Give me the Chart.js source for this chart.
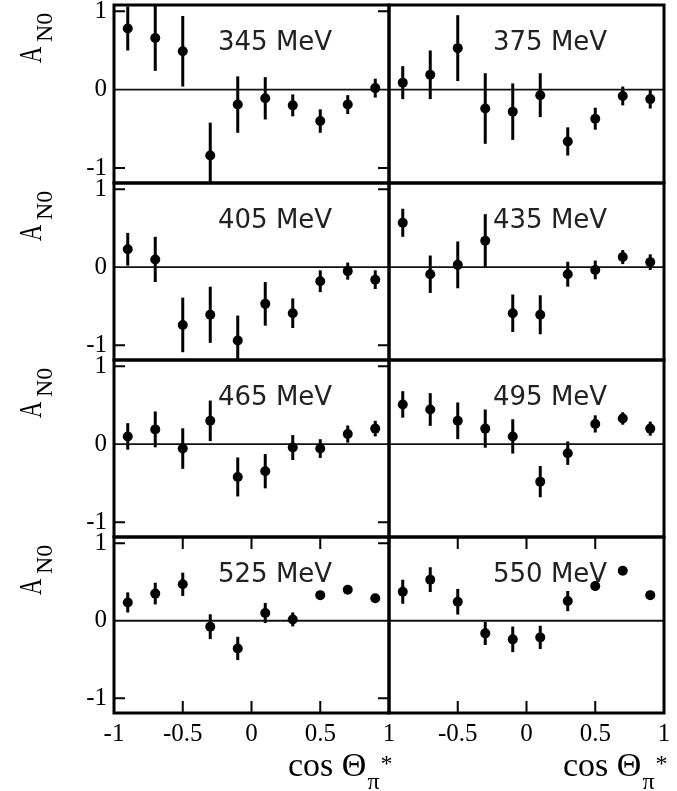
<!DOCTYPE html>
<html>
<head>
<meta charset="utf-8">
<script src="https://cdn.jsdelivr.net/npm/chart.js@4.4.0/dist/chart.umd.min.js"></script>
<style>
  html, body { margin: 0; padding: 0; background: #fff; }
  #page { position: relative; width: 677px; height: 791px; overflow: hidden; }
  .panel { position: absolute; }
  .panel canvas { display: block; }
</style>
</head>
<body>
<div id="page"></div>
<script>
// data: analysing power A_N0 vs cos(theta_pi*)
const cosTheta = [-0.9, -0.7, -0.5, -0.3, -0.1, 0.1, 0.3, 0.5, 0.7, 0.9];
const energies = ['345 MeV', '375 MeV', '405 MeV', '435 MeV', '465 MeV', '495 MeV', '525 MeV', '550 MeV'];
const xTicks = [-1, -0.5, 0, 0.5, 1];
const yTicks = [-1, 0, 1];

const a345 = [0.78, 0.66, 0.49, -0.84, -0.19, -0.11, -0.2, -0.4, -0.19, 0.02];
const e345 = [0.28, 0.42, 0.45, 0.42, 0.36, 0.27, 0.14, 0.15, 0.12, 0.12];
const a375 = [0.09, 0.19, 0.53, -0.24, -0.28, -0.07, -0.66, -0.37, -0.08, -0.12];
const e375 = [0.21, 0.31, 0.42, 0.45, 0.36, 0.28, 0.18, 0.14, 0.12, 0.12];
const a405 = [0.23, 0.10, -0.74, -0.61, -0.94, -0.47, -0.59, -0.18, -0.05, -0.16];
const e405 = [0.21, 0.29, 0.35, 0.36, 0.32, 0.28, 0.19, 0.14, 0.11, 0.12];
const a435 = [0.57, -0.09, 0.03, 0.34, -0.59, -0.61, -0.09, -0.035, 0.13, 0.065];
const e435 = [0.18, 0.24, 0.30, 0.34, 0.24, 0.25, 0.16, 0.12, 0.09, 0.10];
const a465 = [0.10, 0.19, -0.056, 0.30, -0.42, -0.346, -0.043, -0.056, 0.13, 0.20];
const e465 = [0.17, 0.23, 0.26, 0.26, 0.25, 0.22, 0.16, 0.12, 0.11, 0.10];
const a495 = [0.51, 0.445, 0.30, 0.20, 0.10, -0.48, -0.115, 0.26, 0.33, 0.20];
const e495 = [0.17, 0.21, 0.235, 0.245, 0.22, 0.20, 0.15, 0.11, 0.08, 0.09];
const a525 = [0.236, 0.35, 0.47, -0.077, -0.357, 0.10, 0.017, 0.33, 0.40, 0.29];
const e525 = [0.13, 0.14, 0.15, 0.16, 0.15, 0.13, 0.09, 0.05, 0.04, 0.04];
const a550 = [0.374, 0.53, 0.245, -0.163, -0.24, -0.215, 0.254, 0.447, 0.645, 0.33];
const e550 = [0.155, 0.16, 0.165, 0.15, 0.165, 0.15, 0.13, 0.06, 0.05, 0.05];

const values = [a345, a375, a405, a435, a465, a495, a525, a550];
const errors = [e345, e375, e405, e435, e465, e495, e525, e550];

// panel frames in page pixels
const colLeft = [114, 389], colRight = [389, 664];
const rowTop = [5, 183, 360, 537], rowBottom = [183, 360, 537, 713];
const serif = '"Liberation Serif", "Times New Roman", serif';

// vertical error bars, drawn under the dots
const errorBars = {
  id: 'errorBars',
  beforeDatasetsDraw(chart) {
    const { ctx, chartArea, scales: { x, y } } = chart;
    const ds = chart.data.datasets[0];
    ctx.save();
    ctx.beginPath();
    ctx.rect(chartArea.left, chartArea.top, chartArea.width, chartArea.height);
    ctx.clip();
    ctx.strokeStyle = '#000';
    ctx.lineWidth = 3;
    ds.data.forEach((p, j) => {
      const px = x.getPixelForValue(p.x);
      ctx.beginPath();
      ctx.moveTo(px, y.getPixelForValue(p.y - ds.errors[j]));
      ctx.lineTo(px, y.getPixelForValue(p.y + ds.errors[j]));
      ctx.stroke();
    });
    ctx.restore();
  }
};

// frame, zero line, inward ticks and the panel texts
const decorations = {
  id: 'decorations',
  beforeDatasetsDraw(chart) {
    const { ctx, chartArea: a, scales: { y } } = chart;
    ctx.save();
    ctx.strokeStyle = '#111';
    ctx.lineWidth = 1.8;
    const y0 = y.getPixelForValue(0);
    ctx.beginPath();
    ctx.moveTo(a.left, y0);
    ctx.lineTo(a.right, y0);
    ctx.stroke();
    ctx.restore();
  },
  afterDraw(chart) {
    const { ctx, chartArea: a, scales: { x, y } } = chart;
    const info = chart.options.panelInfo;
    ctx.save();
    ctx.strokeStyle = '#000';
    ctx.lineWidth = 2;
    if (info.col === 0) {
      [-1, 1].forEach(v => {
        const py = y.getPixelForValue(v);
        ctx.beginPath();
        ctx.moveTo(a.left, py); ctx.lineTo(a.left + 11, py);
        ctx.moveTo(a.right, py); ctx.lineTo(a.right - 11, py);
        ctx.stroke();
      });
    }
    if (info.row === 3) {
      [-0.5, 0, 0.5].forEach(v => {
        const px = x.getPixelForValue(v);
        ctx.beginPath();
        ctx.moveTo(px, a.bottom); ctx.lineTo(px, a.bottom - 12);
        ctx.moveTo(px, a.top); ctx.lineTo(px, a.top + 12);
        ctx.stroke();
      });
    }
    ctx.lineWidth = 3;
    ctx.strokeRect(a.left, a.top, a.width, a.height);

    // energy label
    ctx.fillStyle = '#222';
    ctx.font = '26px "DejaVu Sans", sans-serif';
    ctx.textBaseline = 'alphabetic';
    ctx.textAlign = 'left';
    ctx.fillText(info.label, a.left + 104, a.top + 45);

    ctx.fillStyle = '#000';
    if (info.col === 0) {
      // rotated A_N0
      ctx.save();
      ctx.translate(41, a.top + 58);
      ctx.rotate(-Math.PI / 2);
      ctx.save();
      ctx.scale(0.7, 1);
      ctx.font = '32px ' + serif;
      ctx.fillText('A', 0, 0);
      ctx.restore();
      ctx.font = '24px ' + serif;
      ctx.fillText('N0', 21, 11);
      ctx.restore();
    }
    if (info.row === 3) {
      const x0 = a.left + 174, base = a.bottom + 63;
      ctx.font = '34px ' + serif;
      ctx.fillText('cos \u0398', x0, base);
      const w = ctx.measureText('cos \u0398').width;
      ctx.font = '24px ' + serif;
      ctx.fillText('\u03c0', x0 + w + 1, base + 13);
      const wp = ctx.measureText('\u03c0').width;
      ctx.fillText('*', x0 + w + wp + 2, base - 5);
    }
    ctx.restore();
  }
};

const page = document.getElementById('page');

energies.forEach((label, i) => {
  const row = Math.floor(i / 2), col = i % 2;
  const left = col === 0 ? 0 : 380;
  const right = col === 0 ? 400 : 677;
  const top = row === 0 ? 0 : rowTop[row] - 10;
  const bottom = row === 3 ? 791 : rowBottom[row] + 10;

  const div = document.createElement('div');
  div.className = 'panel';
  div.style.left = left + 'px';
  div.style.top = top + 'px';
  const canvas = document.createElement('canvas');
  canvas.width = right - left;
  canvas.height = bottom - top;
  div.appendChild(canvas);
  page.appendChild(div);

  new Chart(canvas.getContext('2d'), {
    type: 'scatter',
    data: {
      datasets: [{
        data: cosTheta.map((c, j) => ({ x: c, y: values[i][j] })),
        errors: errors[i],
        pointRadius: 5,
        pointHoverRadius: 5,
        backgroundColor: '#000',
        borderWidth: 0
      }]
    },
    options: {
      responsive: false,
      animation: false,
      devicePixelRatio: 1,
      panelInfo: { row, col, label },
      layout: {
        padding: {
          left: col === 0 ? 0 : colLeft[col] - left,
          right: right - colRight[col],
          top: rowTop[row] - top,
          bottom: row === 3 ? 0 : bottom - rowBottom[row]
        }
      },
      plugins: { legend: { display: false }, tooltip: { enabled: false } },
      scales: {
        x: {
          type: 'linear',
          min: -1,
          max: 1,
          display: row === 3,
          grid: { display: false, drawTicks: false },
          border: { display: false },
          afterBuildTicks: s => { s.ticks = xTicks.map(v => ({ value: v })); },
          afterFit: s => {
            s.height = row === 3 ? 791 - 713 : 0;
            s.paddingLeft = 0; s.paddingRight = 0;
          },
          ticks: {
            padding: 6,
            color: '#000',
            font: { family: serif, size: 25 },
            autoSkip: false,
            maxRotation: 0,
            callback: v => (col === 1 && v === -1) ? '' : String(v)
          }
        },
        y: {
          min: -1.19,
          max: 1.08,
          display: col === 0,
          grid: { display: false, drawTicks: false },
          border: { display: false },
          afterBuildTicks: s => { s.ticks = yTicks.map(v => ({ value: v })); },
          afterFit: s => {
            s.width = col === 0 ? 114 : 0;
            s.paddingTop = 0; s.paddingBottom = 0;
          },
          ticks: {
            padding: 7,
            color: '#000',
            font: { family: serif, size: 25 },
            autoSkip: false,
            callback: v => String(v)
          }
        }
      }
    },
    plugins: [errorBars, decorations]
  });
});
</script>
</body>
</html>
